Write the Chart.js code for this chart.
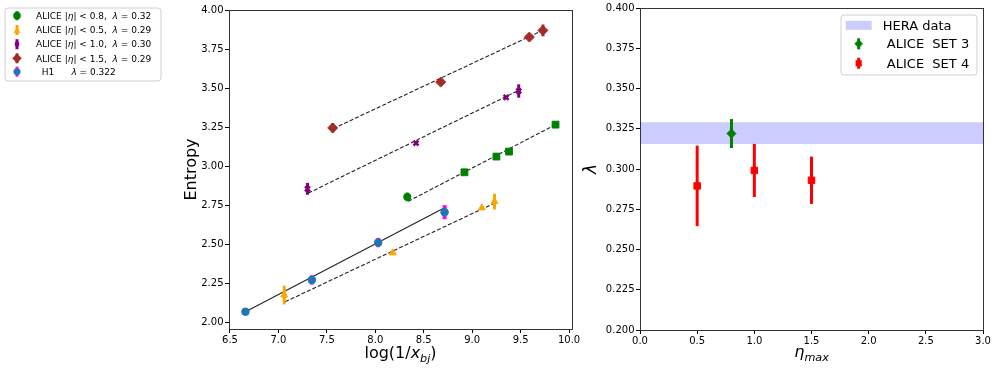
<!DOCTYPE html>
<html>
<head>
<meta charset="utf-8">
<script src="https://cdn.jsdelivr.net/npm/chart.js@4.4.1/dist/chart.umd.min.js"></script>
<style>
  body { margin: 0; background: #fff; width: 996px; height: 369px; overflow: hidden; position: relative; }
  .box { position: absolute; top: 0; height: 369px; }
</style>
</head>
<body>
<div class="box" style="left:0;width:590px"><canvas id="entropy" width="590" height="369"></canvas></div>
<div class="box" style="left:575px;width:421px"><canvas id="lambda" width="421" height="369"></canvas></div>
<script>
// ---- left panel: entropy vs log(1/x) ----
const greenX = [8.33, 8.92, 9.25, 9.38, 9.86];
const greenY = [2.805, 2.963, 3.064, 3.096, 3.269];
const greenErr = [0.028, 0.01, 0.01, 0.01, 0.01];
const orangeX = [7.06, 8.18, 9.10, 9.23];
const orangeY = [2.175, 2.446, 2.735, 2.775];
const orangeErr = [0.06, 0.012, 0.012, 0.05];
const purpleX = [7.30, 8.42, 9.35, 9.48];
const purpleY = [2.857, 3.151, 3.444, 3.485];
const purpleErr = [0.038, 0.01, 0.01, 0.043];
const brownX = [7.56, 8.675, 9.59, 9.73];
const brownY = [3.248, 3.542, 3.831, 3.874];
const brownErr = [0.03, 0.01, 0.01, 0.038];
const h1X = [6.66, 7.345, 8.03, 8.715];
const h1Y = [2.068, 2.272, 2.512, 2.707];
const h1Err = [0.01, 0.03, 0.03, 0.045];

// straight-line fits (end points)
const fitGreenX = [8.34, 9.86], fitGreenY = [2.777, 3.269];
const fitOrangeX = [7.07, 9.23], fitOrangeY = [2.132, 2.765];
const fitPurpleX = [7.31, 9.47], fitPurpleY = [2.83, 3.486];
const fitBrownX = [7.567, 9.726], fitBrownY = [3.244, 3.874];
const fitH1X = [6.66, 8.70], fitH1Y = [2.068, 2.731];

const entropyXTicks = [6.5, 7.0, 7.5, 8.0, 8.5, 9.0, 9.5, 10.0];
const entropyYTicks = [2.00, 2.25, 2.50, 2.75, 3.00, 3.25, 3.50, 3.75, 4.00];
const leftLegend = [
  'ALICE |*η*| < 0.8,  *λ* = 0.32',
  'ALICE |*η*| < 0.5,  *λ* = 0.29',
  'ALICE |*η*| < 1.0,  *λ* = 0.30',
  'ALICE |*η*| < 1.5,  *λ* = 0.29',
  '  H1      *λ* = 0.322'
];

// ---- right panel: lambda vs eta_max ----
const heraX = [0, 3];
const heraLow = 0.3155, heraHigh = 0.329;
const set3X = [0.8], set3Y = [0.322], set3Err = [0.009];
const set4X = [0.5, 1.0, 1.5], set4Y = [0.2895, 0.2991, 0.293], set4Err = [0.025, 0.0165, 0.0147];
const lambdaXTicks = [0.0, 0.5, 1.0, 1.5, 2.0, 2.5, 3.0];
const lambdaYTicks = [0.200, 0.225, 0.250, 0.275, 0.300, 0.325, 0.350, 0.375, 0.400];
const rightLegend = ['HERA data', ' ALICE  SET 3', ' ALICE  SET 4'];

const FONT = 'DejaVu Sans';
const pts = (xs, ys) => xs.map((x, i) => ({x: x, y: ys[i]}));

function parseRich(str) {
  const segs = [];
  let cur = '', mode = 'n';
  for (const ch of str) {
    if (ch === '*' || ch === '_') {
      if (cur) segs.push({t: cur, m: mode});
      cur = '';
      const m = ch === '*' ? 'i' : 's';
      mode = mode === m ? 'n' : m;
    } else cur += ch;
  }
  if (cur) segs.push({t: cur, m: mode});
  return segs;
}

// text with italic (*..*) and italic subscript (_.._) parts
function drawRich(ctx, str, x, y, size, align) {
  const segs = parseRich(str);
  const fontOf = m => (m === 'n' ? '' : 'italic ') + (m === 's' ? size * 0.7 : size) + 'px "' + FONT + '"';
  let w = 0;
  segs.forEach(s => { ctx.font = fontOf(s.m); s.w = ctx.measureText(s.t).width; w += s.w; });
  let cx = align === 'center' ? x - w / 2 : x;
  ctx.textAlign = 'left';
  ctx.textBaseline = 'alphabetic';
  ctx.fillStyle = '#000';
  segs.forEach(s => {
    ctx.font = fontOf(s.m);
    ctx.fillText(s.t, cx, y + (s.m === 's' ? size * 0.27 : 0));
    cx += s.w;
  });
}

function marker(ctx, style, color, radius, x, y, bw) {
  ctx.fillStyle = color;
  ctx.strokeStyle = color;
  ctx.lineWidth = bw;
  Chart.helpers.drawPoint(ctx, {pointStyle: style, radius: radius, rotation: 0, borderWidth: bw}, x, y);
}

const errorBars = {
  id: 'errorBars',
  beforeDatasetDraw(chart, args) {
    const ds = chart.data.datasets[args.index];
    if (!ds.errors) return;
    const {ctx, scales: {x, y}} = chart;
    ctx.save();
    ctx.strokeStyle = ds.errorColor || ds.borderColor;
    ctx.lineWidth = ds.errorWidth || 3;
    ds.data.forEach((p, j) => {
      const px = x.getPixelForValue(p.x);
      ctx.beginPath();
      ctx.moveTo(px, y.getPixelForValue(p.y - ds.errors[j]));
      ctx.lineTo(px, y.getPixelForValue(p.y + ds.errors[j]));
      ctx.stroke();
    });
    ctx.restore();
  }
};

const frame = {
  id: 'frame',
  afterDraw(chart, args, opts) {
    const {ctx, chartArea: a} = chart;
    ctx.save();
    ctx.strokeStyle = '#333';
    ctx.lineWidth = 1;
    ctx.strokeRect(a.left + 0.5, a.top + 0.5, a.right - a.left, a.bottom - a.top);
    drawRich(ctx, opts.xTitle, (a.left + a.right) / 2, opts.xTitleY, 16, 'center');
    // legend
    const L = opts.legend;
    ctx.beginPath();
    ctx.roundRect(L.x, L.y, L.w, L.h, 3);
    ctx.fillStyle = 'rgba(255,255,255,0.8)';
    ctx.fill();
    ctx.strokeStyle = '#d0d0d0';
    ctx.lineWidth = 1;
    ctx.stroke();
    L.items.forEach((it, i) => {
      const cy = L.rowY[i];
      if (it.patch) {
        ctx.fillStyle = it.patch;
        ctx.fillRect(L.mx - 13, cy - 4.5, 26, 9);
      } else {
        ctx.strokeStyle = it.errColor || it.color;
        ctx.lineWidth = 3;
        ctx.beginPath();
        ctx.moveTo(L.mx, cy - it.bar);
        ctx.lineTo(L.mx, cy + it.bar);
        ctx.stroke();
        marker(ctx, it.style, it.color, it.radius, L.mx, cy + (it.dy || 0), it.bw || 0.5);
      }
      drawRich(ctx, it.label, L.tx, cy + L.size * 0.36, L.size, 'left');
    });
    ctx.restore();
  }
};

function axis(min, max, ticks, dec, fitSize, title) {
  return {
    type: 'linear', min: min, max: max,
    afterBuildTicks: s => { s.ticks = ticks.map(v => ({value: v})); },
    afterFit: s => { if (s.isHorizontal()) s.height = fitSize; else s.width = fitSize; },
    ticks: {callback: v => v.toFixed(dec), color: '#000', font: {family: FONT, size: 10}, padding: 1.5, autoSkip: false, maxRotation: 0},
    grid: {display: true, drawOnChartArea: false, drawTicks: true, tickLength: 4, tickColor: '#000', tickWidth: 1},
    border: {display: true, color: '#333', width: 1},
    title: title || {display: false}
  };
}

const common = {
  responsive: false, animation: false, events: [],
  plugins: {legend: {display: false}, tooltip: {enabled: false}}
};

function fitLine(xs, ys, dash) {
  return {type: 'line', data: pts(xs, ys), borderColor: '#222', borderWidth: 1.1, borderDash: dash,
    pointRadius: 0, fill: false, tension: 0};
}

new Chart(document.getElementById('entropy'), {
  type: 'scatter',
  data: {
    datasets: [
      {data: pts(h1X, h1Y), errors: h1Err, errorColor: '#ff00ff', errorWidth: 4, backgroundColor: '#1f77b4', borderColor: '#1f77b4', pointStyle: 'circle', pointRadius: 3.8},
      {data: pts(greenX, greenY), errors: greenErr, backgroundColor: '#008000', borderColor: '#008000', pointStyle: ['circle', 'rect', 'rect', 'rect', 'rect'], pointRadius: [3.6, 4.8, 4.8, 4.8, 4.8]},
      {data: pts(orangeX, orangeY), errors: orangeErr, backgroundColor: '#ffa500', borderColor: '#ffa500', pointStyle: 'triangle', pointRadius: 4},
      {data: pts(purpleX, purpleY), errors: purpleErr, backgroundColor: '#800080', borderColor: '#800080', pointStyle: 'crossRot', pointRadius: 3.5, borderWidth: 2.5},
      {data: pts(brownX, brownY), errors: brownErr, backgroundColor: '#a52a2a', borderColor: '#a52a2a', pointStyle: 'rectRot', pointRadius: 5},
      fitLine(fitGreenX, fitGreenY, [4, 2]),
      fitLine(fitOrangeX, fitOrangeY, [4, 2]),
      fitLine(fitPurpleX, fitPurpleY, [4, 2]),
      fitLine(fitBrownX, fitBrownY, [4, 2]),
      fitLine(fitH1X, fitH1Y, [])
    ]
  },
  options: Object.assign({}, common, {
    layout: {padding: {left: 182, right: 18, top: 10, bottom: 0}},
    scales: {
      x: axis(6.49, 10.03, entropyXTicks, 1, 40),
      y: axis(1.957, 4.005, entropyYTicks, 2, 47,
        {display: true, text: 'Entropy', color: '#000', font: {family: FONT, size: 16}, padding: 0})
    },
    plugins: Object.assign({}, common.plugins, {
      frame: {
        xTitle: 'log(1/*x*_bj_)', xTitleY: 358,
        legend: {
          x: 5, y: 8, w: 156, h: 73, mx: 17, tx: 36, size: 9,
          rowY: [15.7, 30, 44.2, 58.3, 71.7],
          items: [
            {label: leftLegend[0], color: '#008000', style: 'circle', radius: 3.6, bar: 4.5},
            {label: leftLegend[1], color: '#ffa500', style: 'triangle', radius: 3.5, bar: 5, dy: 1},
            {label: leftLegend[2], color: '#800080', style: 'crossRot', radius: 2.5, bar: 5, bw: 2.5},
            {label: leftLegend[3], color: '#a52a2a', style: 'rectRot', radius: 4.5, bar: 5},
            {label: leftLegend[4], color: '#1f77b4', errColor: '#ff00ff', style: 'circle', radius: 3.3, bar: 5}
          ]
        }
      }
    })
  }),
  plugins: [errorBars, frame]
});

new Chart(document.getElementById('lambda'), {
  type: 'scatter',
  data: {
    datasets: [
      {data: pts(set3X, set3Y), errors: set3Err, backgroundColor: '#008000', borderColor: '#008000', pointStyle: 'rectRot', pointRadius: 4.5},
      {data: pts(set4X, set4Y), errors: set4Err, backgroundColor: '#ff0000', borderColor: '#ff0000', pointStyle: 'rect', pointRadius: 4.6},
      {type: 'line', data: pts(heraX, [heraHigh, heraHigh]), borderWidth: 0, pointRadius: 0, fill: false},
      {type: 'line', data: pts(heraX, [heraLow, heraLow]), borderWidth: 0, pointRadius: 0, fill: '-1', backgroundColor: 'rgba(0,0,255,0.2)'}
    ]
  },
  options: Object.assign({}, common, {
    layout: {padding: {left: 6, right: 13, top: 8, bottom: 0}},
    scales: {
      x: axis(0, 3, lambdaXTicks, 1, 39),
      y: axis(0.2, 0.4, lambdaYTicks, 3, 59,
        {display: true, text: 'λ', color: '#000', font: {family: FONT, size: 17, style: 'italic'}, padding: 0})
    },
    plugins: Object.assign({}, common.plugins, {
      filler: {propagate: false},
      frame: {
        xTitle: '*η*_max_', xTitleY: 356.5,
        legend: {
          x: 266, y: 15, w: 136, h: 60, mx: 283.7, tx: 307.7, size: 13,
          rowY: [25.3, 43.8, 63.3],
          items: [
            {label: rightLegend[0], patch: 'rgba(0,0,255,0.2)'},
            {label: rightLegend[1], color: '#008000', style: 'rectRot', radius: 4, bar: 5.5},
            {label: rightLegend[2], color: '#ff0000', style: 'rect', radius: 4, bar: 5.5}
          ]
        }
      }
    })
  }),
  plugins: [errorBars, frame]
});
</script>
</body>
</html>
